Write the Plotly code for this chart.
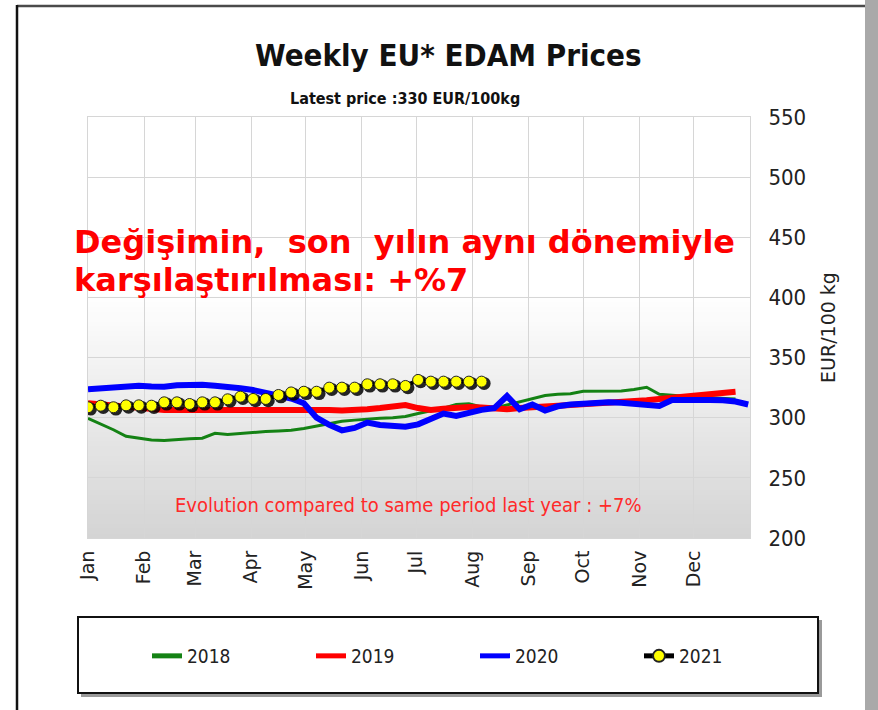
import numpy as np
import plotly.graph_objects as go

# ---------------- data ----------------
months = ["Jan", "Feb", "Mar", "Apr", "May", "Jun", "Jul", "Aug", "Sep", "Oct", "Nov", "Dec"]
month_start_week = [0, 4.43, 8.43, 12.86, 17.14, 21.57, 25.86, 30.29, 34.71, 39.0, 43.43, 47.71]

y_ticks = [200, 250, 300, 350, 400, 450, 500, 550]

price_2018 = [299.5, 295, 290, 284.5, 283, 281.5, 281, 282, 282.5, 283, 287, 286, 287, 288, 288.5, 289,
              289.5, 291, 293, 295, 297, 298, 299, 299.5, 300, 301, 303.5, 305.5, 308, 311, 311.5, 309,
              308, 310.5, 313, 316, 318.5, 319.5, 320, 322, 322.2, 322.2, 322.2, 323.5, 325.3, 319.5,
              318.5, 318, 317, 316.5, 316, 315.5]
price_2019 = [312, 311, 310, 309, 308, 307, 306.5, 306.5, 306.5, 307, 307, 307.5, 307.5, 307.5, 307.5, 307.5,
              307.5, 307.5, 307.5, 306.5, 306, 306, 307, 308, 309, 310.5, 308, 306.5, 307.5, 308.5, 309, 308.5,
              307.5, 307, 308, 309, 309.5, 310, 310.5, 311, 311.5, 312, 312.5, 313.5, 314.5, 315.5,
              316.5, 317.5, 318.5, 320, 321.5, 321.5]
price_2020 = [323.6, 324.5, 325.8, 326.5, 326.6, 326, 325.8, 327, 327.8, 327.5, 326.6, 326, 324.5, 323, 321, 318,
              316, 312, 300, 294, 289.5, 291.5, 296, 294, 293, 292.5, 294.5, 299.5, 303.5, 301.5, 304.5, 306.5,
              308, 318, 307, 311, 306, 309.5, 311, 312, 312.5, 312.8, 312.5, 311.5, 310.5, 309.8, 314.7,
              315, 315, 314.8, 314.5, 313.5, 311]
price_2021 = [308.7, 310, 308.7, 310.3, 310.3, 310, 312.8, 312.8, 311.4, 312.8, 312.8, 315.3, 317.5, 315.6,
              315.6, 318.9, 321, 321.6, 321.6, 325, 325, 325, 327.8, 327.8, 327.8, 326.4, 331.4, 330, 330,
              330, 330, 330]

# ---------------- layout geometry (px) ----------------
W, H = 878, 710
PL, PR, PT, PB = 88, 750, 117, 538
pw, ph = PR - PL, PB - PT


def px_x(px):
    return (px - PL) / pw


def px_y(py):
    return (PB - py) / ph


NARROW = "Liberation Sans Narrow, DejaVu Sans Condensed, Roboto Condensed, sans-serif"
WIDE = "DejaVu Sans, Verdana, sans-serif"

fig = go.Figure()

series = [
    ("2018", price_2018, "#148214", 3),
    ("2019", price_2019, "#ff0000", 6),
    ("2020", price_2020, "#0000ff", 6),
]
for name, vals, col, lw in series:
    fig.add_trace(go.Scatter(
        x=np.arange(len(vals)), y=vals, name=name, mode="lines",
        line=dict(color=col, width=lw, shape="linear"),
    ))

w21 = np.arange(len(price_2021))
# soft shadow under the 2021 markers
fig.add_trace(go.Scatter(
    x=w21 + 0.2, y=np.array(price_2021) - 1.5, mode="markers", showlegend=False,
    hoverinfo="skip",
    marker=dict(color="rgba(0,0,0,0.85)", size=13, line=dict(width=0)),
))
fig.add_trace(go.Scatter(
    x=w21, y=price_2021, name="2021", mode="lines+markers",
    line=dict(color="#000000", width=4),
    marker=dict(color="#ffff00", size=11, line=dict(color="#222222", width=1)),
))

# ---------------- background gradient ----------------
shapes = []
n_band = 50
lo, hi = 200, 400
c_bot, c_top = np.array([212, 212, 212]), np.array([255, 255, 255])
edges = np.linspace(lo, hi, n_band + 1)
for i in range(n_band):
    t = (i + 0.5) / n_band
    c = (c_bot + (c_top - c_bot) * t).astype(int)
    shapes.append(dict(type="rect", xref="paper", yref="y", x0=0, x1=1,
                       y0=edges[i], y1=edges[i + 1] + 1.0, layer="below",
                       line=dict(width=0), fillcolor=f"rgb({c[0]},{c[1]},{c[2]})"))

# outer frame
shapes.append(dict(type="line", xref="paper", yref="paper", x0=px_x(17), x1=px_x(866),
                   y0=px_y(6), y1=px_y(6), line=dict(color="#4a4a4a", width=2.5)))
shapes.append(dict(type="line", xref="paper", yref="paper", x0=px_x(17), x1=px_x(17),
                   y0=px_y(5), y1=px_y(712), line=dict(color="#111111", width=2.5)))
shapes.append(dict(type="rect", xref="paper", yref="paper", x0=px_x(865), x1=px_x(880),
                   y0=px_y(0), y1=px_y(712), line=dict(width=0), fillcolor="#a9a9a9"))

# legend box with shadow
shapes.append(dict(type="rect", xref="paper", yref="paper", x0=px_x(81), x1=px_x(822),
                   y0=px_y(620), y1=px_y(697), line=dict(width=0), fillcolor="#9a9a9a"))
shapes.append(dict(type="rect", xref="paper", yref="paper", x0=px_x(78), x1=px_x(818),
                   y0=px_y(617), y1=px_y(693), line=dict(color="#111111", width=2),
                   fillcolor="#ffffff"))

annotations = [
    dict(text="<b>Weekly EU* EDAM Prices</b>", x=px_x(449), y=px_y(55), xref="paper", yref="paper",
         showarrow=False, xanchor="center", yanchor="middle",
         font=dict(family=NARROW, size=31, color="#111111")),
    dict(text="<b>Latest price :330 EUR/100kg</b>", x=px_x(405), y=px_y(98), xref="paper", yref="paper",
         showarrow=False, xanchor="center", yanchor="middle",
         font=dict(family=NARROW, size=16, color="#111111")),
    dict(text="<b>Değişimin,  son  yılın aynı dönemiyle</b>", x=px_x(72), y=px_y(242), xref="paper", yref="paper",
         showarrow=False, xanchor="left", yanchor="middle",
         font=dict(family=WIDE, size=32, color="#ff0000")),
    dict(text="<b>karşılaştırılması: +%7</b>", x=px_x(72), y=px_y(280), xref="paper", yref="paper",
         showarrow=False, xanchor="left", yanchor="middle",
         font=dict(family=WIDE, size=32, color="#ff0000")),
    dict(text="Evolution compared to same period last year : +7%", x=px_x(408), y=px_y(505),
         xref="paper", yref="paper", showarrow=False, xanchor="center", yanchor="middle",
         font=dict(family=NARROW, size=20, color="#ff2a2a")),
]

fig.update_layout(
    width=W, height=H,
    margin=dict(l=PL, r=W - PR, t=PT, b=H - PB, pad=0),
    paper_bgcolor="#ffffff", plot_bgcolor="#ffffff",
    shapes=shapes, annotations=annotations,
    showlegend=True,
    legend=dict(orientation="h", x=px_x(147), y=px_y(656), xanchor="left", yanchor="middle",
                bgcolor="rgba(0,0,0,0)", borderwidth=0, entrywidth=119, entrywidthmode="pixels",
                font=dict(family=NARROW, size=19, color="#222222"),
                itemsizing="constant"),
    xaxis=dict(range=[0, 52.14], tickvals=month_start_week, ticktext=months, tickangle=-90,
               showgrid=True, gridcolor="#d6d6d6", gridwidth=1, zeroline=False,
               showline=True, linecolor="#d6d6d6", mirror=True, ticks="",
               ticklabelstandoff=4,
               tickfont=dict(family=WIDE, size=19, color="#222222"),
               fixedrange=True),
    yaxis=dict(range=[200, 550], tickvals=y_ticks, side="right", showgrid=True, gridcolor="#d6d6d6",
               gridwidth=1, zeroline=False, showline=True, linecolor="#d6d6d6", mirror=True, ticks="",
               ticklabelstandoff=13,
               tickfont=dict(family=NARROW, size=22, color="#222222"),
               title=dict(text="EUR/100 kg", standoff=16,
                          font=dict(family=WIDE, size=19, color="#222222")),
               fixedrange=True),
)

fig.write_html("out.html", config={"displayModeBar": False},
               post_script="document.body.style.margin='0px';")
